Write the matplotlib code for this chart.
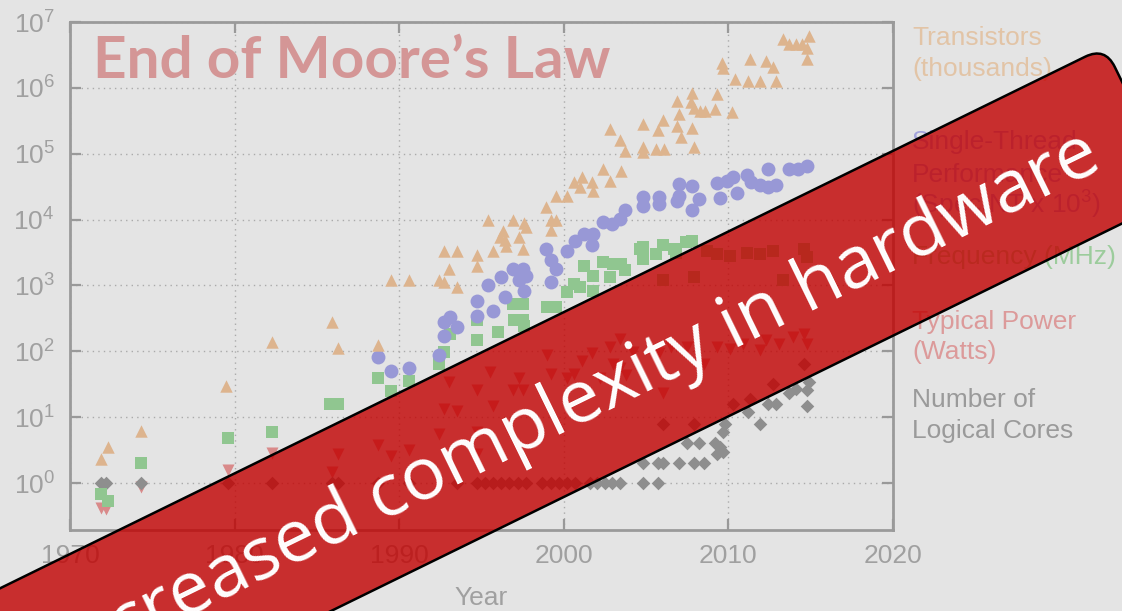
import numpy as np
import matplotlib
matplotlib.use("Agg")
import matplotlib.pyplot as plt
from matplotlib.patches import FancyBboxPatch
from matplotlib.transforms import Affine2D
from matplotlib.ticker import NullLocator

# ---------------- data ----------------
tr_year = [1971.9, 1972.3, 1974.3, 1979.5, 1982.3, 1985.9, 1986.3, 1988.7, 1989.5, 1990.6,
           1992.4, 1992.7, 1993.5, 1992.7, 1993.5, 1993.0, 1994.7, 1994.7, 1995.4, 1995.7,
           1996.3, 1996.1, 1996.5, 1996.4, 1996.9, 1997.6, 1997.7, 1997.3, 1997.5, 1998.9,
           1999.2, 1999.5, 1999.2, 1999.5, 2000.2, 2000.6, 2001.1, 2001.0, 2001.7, 2001.8,
           2002.4, 2002.8, 2003.5, 2002.8, 2003.4, 2003.7, 2004.8, 2004.8, 2004.8, 2005.7,
           2006.0, 2005.6, 2006.1, 2006.9, 2007.0, 2006.9, 2007.1, 2007.8, 2007.7, 2007.9,
           2008.3, 2008.6, 2007.8, 2007.9, 2009.2, 2009.3, 2010.2, 2009.6, 2009.7, 2010.4,
           2011.2, 2011.9, 2012.9, 2011.3, 2012.3, 2012.7, 2013.3, 2013.7, 2014.1, 2014.5,
           2014.9, 2014.8, 2014.8]
tr_val = [2.3, 3.5, 6.1, 30, 137, 275, 112, 123, 1230, 1230,
          1230, 1120, 940, 3300, 3300, 1780, 2950, 1950, 10000, 3300,
          6800, 5500, 4000, 4900, 10000, 8900, 7600, 5500, 3600, 15800,
          10000, 10000, 7000, 23000, 23000, 37000, 44000, 31000, 37000, 27500,
          59000, 39000, 55000, 240000, 160000, 112000, 280000, 126000, 105000, 230000,
          320000, 117000, 117000, 630000, 400000, 260000, 180000, 850000, 600000, 500000,
          450000, 450000, 250000, 126000, 480000, 810000, 430000, 2400000, 2000000, 1350000,
          1260000, 1260000, 1260000, 2700000, 2600000, 2100000, 5500000, 4600000, 4600000, 4600000,
          6200000, 4100000, 2700000]

st_year = [1988.7, 1989.5, 1990.6, 1992.4, 1992.7, 1992.7, 1993.1, 1993.5, 1994.7, 1994.7,
           1995.7, 1995.4, 1996.2, 1996.4, 1996.9, 1997.5, 1997.7, 1997.3, 1997.6, 1998.9,
           1999.2, 1999.5, 1999.2, 2000.2, 2000.7, 2001.2, 2001.8, 2001.7, 2002.4, 2002.9,
           2003.4, 2003.7, 2004.8, 2004.8, 2005.8, 2005.8, 2007.0, 2006.9, 2007.0, 2007.8,
           2008.2, 2007.8, 2009.3, 2009.9, 2010.3, 2009.5, 2010.5, 2011.1, 2011.4, 2011.9,
           2012.4, 2012.9, 2012.4, 2013.7, 2014.2, 2014.8]
st_val = [81, 50, 55, 87, 174, 275, 331, 234, 339, 575,
          407, 1000, 1350, 660, 1780, 1780, 1410, 1230, 813, 3550,
          2400, 1780, 1120, 3390, 4790, 6030, 6030, 4170, 9120, 8510,
          10200, 13800, 21900, 16200, 21900, 17400, 34700, 19500, 22900, 32400,
          20400, 14100, 35500, 38900, 43700, 21400, 25100, 46800, 37200, 33100,
          30900, 33100, 58900, 58900, 58900, 66100]

fq_year = [1971.9, 1972.3, 1974.3, 1979.6, 1982.3, 1985.8, 1986.3, 1988.7, 1989.5, 1990.6,
           1992.7, 1992.4, 1994.7, 1994.7, 1993.1, 1996.0, 1996.9, 1997.5, 1997.5, 1999.0,
           1999.5, 2000.2, 2001.0, 2001.8, 2001.2, 2001.8, 2002.4, 2003.0, 2003.5, 2003.7,
           2002.8, 2000.6, 2004.8, 2004.8, 2005.6, 2006.0, 2006.8, 2007.4, 2007.8, 2006.0,
           2007.9, 2008.7, 2009.3, 2010.1, 2011.1, 2011.9, 2012.7, 2013.3, 2014.6, 2014.8,
           2004.6, 2006.7, 1997.0, 1997.6]
fq_val = [0.69, 0.54, 2.0, 4.9, 6.0, 16, 16, 40, 25, 35,
          98, 65, 148, 295, 186, 195, 525, 525, 295, 479,
          479, 794, 955, 832, 2000, 1410, 2240, 2140, 2140, 1700,
          1350, 1070, 3800, 2510, 3020, 4070, 3160, 4570, 4790, 1200,
          1350, 3390, 3020, 2820, 3160, 3020, 3390, 1200, 3630, 2690,
          3630, 3630, 295, 245]

pw_year = [1971.9, 1972.2, 1974.3, 1979.6, 1982.3, 1986.3, 1985.9, 1988.7, 1989.5, 1990.6,
           1992.4, 1992.7, 1993.5, 1993.0, 1994.7, 1994.7, 1994.7, 1995.5, 1995.7, 1996.9,
           1997.5, 1997.3, 1999.0, 1999.2, 2000.2, 2001.1, 2001.7, 2002.2, 2002.8, 2003.0,
           2003.4, 2003.8, 2003.4, 2004.2, 2000.6, 2006.5, 2007.5, 2006.0, 2008.5, 2009.3,
           2010.1, 2010.9, 2011.9, 2012.3, 2013.1, 2013.9, 2014.8, 2005.8, 2014.6]
pw_val = [0.42, 0.41, 0.87, 1.6, 2.9, 2.75, 1.5, 3.8, 2.6, 3.2,
          5.6, 13.5, 12.6, 34, 26, 2.8, 6.0, 49, 15, 26,
          26, 39, 87, 46, 39, 72, 93, 39, 117, 65,
          55, 44, 155, 98, 46, 117, 117, 23, 65, 117,
          110, 130, 105, 148, 130, 166, 130, 93, 186]

lc_year = [1971.9, 1972.2, 1974.3, 1979.6, 1982.3, 1985.9, 1986.3, 1988.7, 1990.6, 1993.5,
           1994.7, 1995.2, 1995.7, 1996.2, 1996.7, 1997.2, 1997.7, 1998.7, 1999.2, 1999.7,
           2000.2, 2000.7, 2001.6, 2002.0, 2002.5, 2002.9, 2003.4, 2004.8, 2005.7,
           2004.8, 2005.7, 2006.0, 2007.0, 2007.9, 2008.5,
           2007.5, 2008.2, 2009.2, 2009.5, 2009.3, 2009.7, 2009.7, 2009.8, 2006.0, 2007.9,
           2010.3, 2011.2, 2011.9, 2011.3, 2012.4, 2012.9, 2012.7, 2013.7, 2014.1, 2014.6,
           2014.9, 2014.8, 2014.8]
lc_val = [1, 1, 1, 1, 1, 1, 1, 1, 1, 1,
          1, 1, 1, 1, 1, 1, 1, 1, 1, 1,
          1, 1, 1, 1, 1, 1, 1, 1, 1,
          2, 2, 2, 2, 2, 2,
          4, 4, 4, 3.5, 2.8, 3, 6, 8, 8, 8,
          16, 12, 8, 19, 16, 16, 32, 23, 27, 64,
          34, 26, 15]

x_ticks = [1970, 1980, 1990, 2000, 2010, 2020]
y_exps = [0, 1, 2, 3, 4, 5, 6, 7]

legend_lines = [
    ("Transistors", 45, '#e2c4a6'),
    ("(thousands)", 76, '#e2c4a6'),
    ("Single-Thread", 149, '#a4a4dc'),
    ("Performance", 182, '#a4a4dc'),
    ("(SpecINT x 10$^{3}$)", 214, '#a4a4dc'),
    ("Frequency (MHz)", 264, '#9ccc9c'),
    ("Typical Power", 329, '#dc9a9a'),
    ("(Watts)", 359, '#dc9a9a'),
    ("Number of", 407, '#9a9a9a'),
    ("Logical Cores", 438, '#9a9a9a'),
]

# ---------------- style ----------------
plt.rcParams['font.family'] = ['Liberation Sans', 'DejaVu Sans']
plt.rcParams['mathtext.fontset'] = 'custom'
plt.rcParams['mathtext.rm'] = 'Liberation Sans'
plt.rcParams['mathtext.it'] = 'Liberation Sans:italic'
plt.rcParams['mathtext.bf'] = 'Liberation Sans:bold'

W, H = 1122, 611
BG = '#e4e4e4'
fig = plt.figure(figsize=(W / 100, H / 100), dpi=100, facecolor=BG)
ax = fig.add_axes([70 / W, 1 - 530 / H, (893 - 70) / W, (530 - 22) / H])
ax.set_facecolor(BG)
ax.set_yscale('log')
ax.set_xlim(1970, 2020)
ax.set_ylim(10 ** -0.712, 1e7)

ax.set_xticks(x_ticks)
ax.set_xticklabels([str(t) for t in x_ticks])
ax.set_yticks([10.0 ** e for e in y_exps])
ax.set_yticklabels([r'$10^{%d}$' % e for e in y_exps])
ax.yaxis.set_minor_locator(NullLocator())
ax.xaxis.set_minor_locator(NullLocator())
ax.tick_params(direction='in', length=8, width=1.6, color='#999999',
               top=True, right=True, labelsize=19, labelcolor='#a0a0a0')
ax.tick_params(axis='x', pad=10)
ax.tick_params(axis='y', pad=11)
for sp in ax.spines.values():
    sp.set_color('#9a9a9a')
    sp.set_linewidth(2.0)
ax.grid(True, which='major', linestyle=(0, (1, 3)), color='#aaaaaa', linewidth=1.0)
ax.set_axisbelow(True)
ax.set_xlabel('Year', fontsize=19, color='#a0a0a0', labelpad=13)

ax.scatter(pw_year, pw_val, marker='v', s=75, c='#d98a8a', linewidths=0, zorder=3, clip_on=False)
ax.scatter(lc_year, lc_val, marker='D', s=48, c='#8e8e8e', linewidths=0, zorder=3, clip_on=False)
ax.scatter(fq_year, fq_val, marker='s', s=85, c='#90c690', linewidths=0, zorder=3, clip_on=False)
ax.scatter(st_year, st_val, marker='o', s=100, c='#9898d6', linewidths=0, zorder=4, clip_on=False)
ax.scatter(tr_year, tr_val, marker='^', s=80, c='#ddb48e', linewidths=0, zorder=4, clip_on=False)

# ---------------- overlay ----------------
ov = fig.add_axes([0, 0, 1, 1])
ov.set_xlim(0, W)
ov.set_ylim(0, H)
ov.axis('off')
ov.patch.set_alpha(0)

ov.text(93, H - 78, "End of Moore\u2019s Law", family='Lato', fontweight='bold',
        fontsize=42, color='#d49696', ha='left', va='baseline', zorder=1)
for txt, yb, col in legend_lines:
    ov.text(912, H - yb, txt, fontsize=19, color=col, ha='left', va='baseline', zorder=1)

theta = 26.1
Lb, Hb = 1600, 166
cx, cy = 1105, H - 47
c, s = np.cos(np.radians(theta)), np.sin(np.radians(theta))
blx = cx - (Lb * c - Hb * s)
bly = cy - (Lb * s + Hb * c)
banner = FancyBboxPatch((0, 0), Lb, Hb, boxstyle='round,pad=0,rounding_size=22',
                        facecolor=(0.76, 0.0, 0.0, 0.80), edgecolor='black', linewidth=1.8,
                        transform=Affine2D().rotate_deg(theta).translate(blx, bly) + ov.transData,
                        zorder=5)
ov.add_patch(banner)
ov.text(575, H - 406, "Increased complexity in hardware", family='Open Sans',
        fontsize=53, color='white', rotation=theta, rotation_mode='anchor',
        ha='center', va='center', zorder=6)

fig.savefig('out.png', dpi=100, facecolor=BG)
